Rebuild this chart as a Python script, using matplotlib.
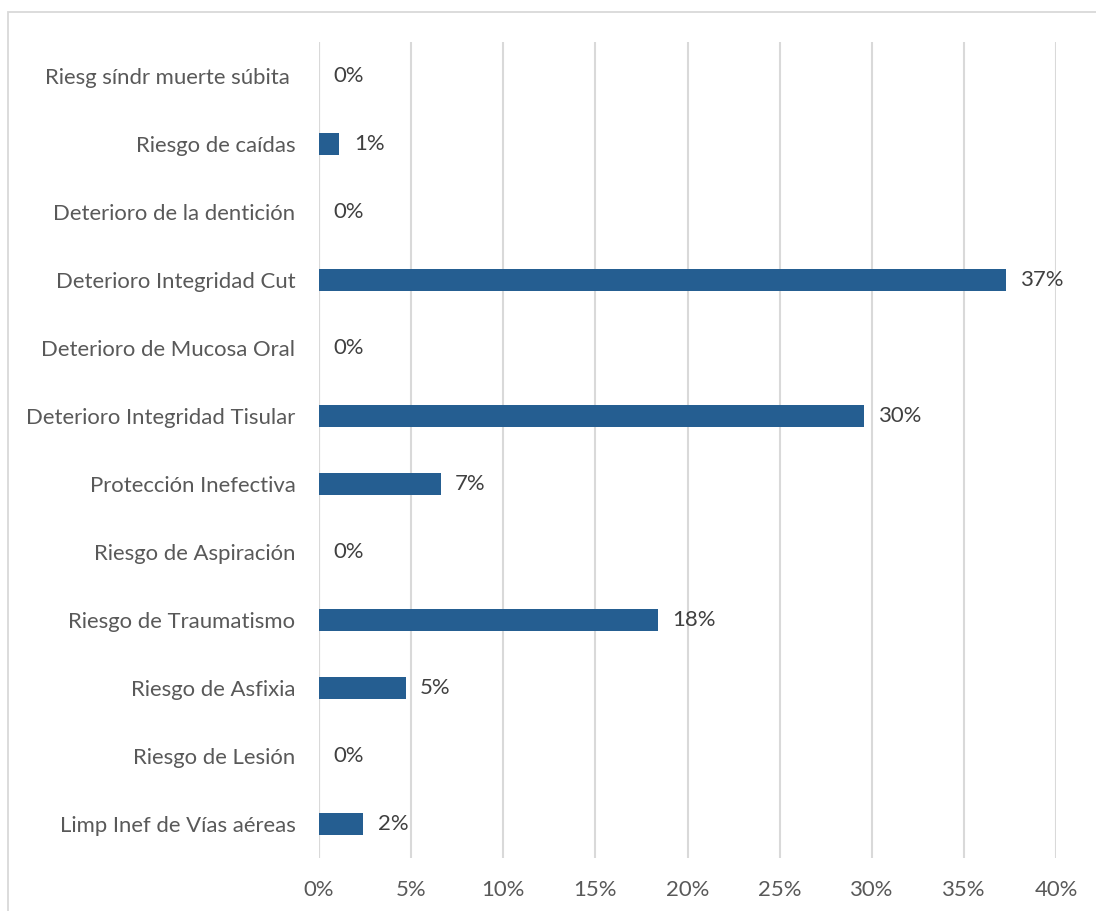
import matplotlib
matplotlib.use("Agg")
import matplotlib.pyplot as plt
from matplotlib.patches import Rectangle
from matplotlib.ticker import FuncFormatter

# Nursing diagnoses (top to bottom) and their share of cases, in percent
categories = [
    "Riesg síndr muerte súbita ",
    "Riesgo de caídas",
    "Deterioro de la dentición",
    "Deterioro Integridad Cut",
    "Deterioro de Mucosa Oral",
    "Deterioro Integridad Tisular",
    "Protección Inefectiva",
    "Riesgo de Aspiración",
    "Riesgo de Traumatismo",
    "Riesgo de Asfixia",
    "Riesgo de Lesión",
    "Limp Inef de Vías aéreas",
]
values = [0.0, 1.1, 0.0, 37.3, 0.0, 29.6, 6.6, 0.0, 18.4, 4.7, 0.0, 2.4]
x_ticks = [0, 5, 10, 15, 20, 25, 30, 35, 40]

plt.rcParams["font.family"] = ["Lato", "DejaVu Sans"]

BAR = "#255E91"
GRID = "#D9D9D9"
LABEL = "#595959"
FS = 15.9

fig = plt.figure(figsize=(10.96, 9.11), dpi=100)
fig.patches.append(Rectangle((8 / 1096, -0.1), 1.2, 1 - 12 / 911 + 0.1,
                             transform=fig.transFigure, fill=False,
                             edgecolor=GRID, linewidth=1.3))

ax = fig.add_axes([319 / 1096, 1 - 858 / 911, (1056 - 319) / 1096, (858 - 42) / 911])

n = len(categories)
ypos = list(range(n - 1, -1, -1))
ax.barh(ypos, values, height=0.31, color=BAR, zorder=3)

for y, v in zip(ypos, values):
    ax.annotate(f"{v:.0f}%", xy=(v, y), xytext=(10.5, 0), textcoords="offset points",
                ha="left", va="center", fontsize=FS, color="#404040")

ax.set_xlim(0, 40)
ax.set_ylim(-0.5, n - 0.5)
ax.set_xticks(x_ticks)
ax.xaxis.set_major_formatter(FuncFormatter(lambda x, p: f"{x:.0f}%"))
ax.set_yticks(ypos)
ax.set_yticklabels(categories)
ax.tick_params(axis="both", length=0, labelsize=FS, labelcolor=LABEL)
ax.tick_params(axis="y", pad=17)
ax.tick_params(axis="x", pad=16)
ax.xaxis.grid(True, color=GRID, linewidth=1.5, zorder=0)
for s in ax.spines.values():
    s.set_visible(False)
ax.axvline(0, color=GRID, linewidth=1.5, zorder=1)

fig.savefig("out.png", dpi=100)
